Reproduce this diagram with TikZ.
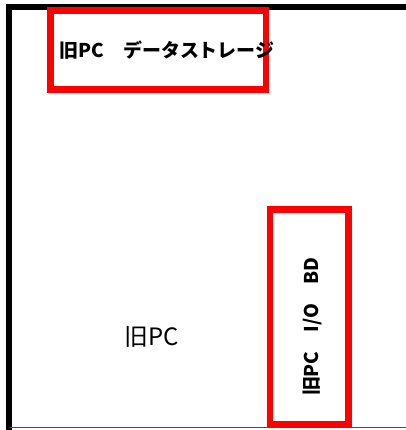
\documentclass[tikz,border=0pt]{standalone}
\usepackage{fontspec}
\newfontfamily\jp{Noto Sans CJK JP}

\begin{document}
\begin{tikzpicture}[x=1bp,y=-1bp,
    frame/.style={line width=6bp,black},
    part/.style={draw=red,line width=6.5bp,inner sep=0},
    caption/.style={inner sep=0,font=\jp\fontsize{19}{21}\selectfont}
    ]
    \def\W{406}  % picture width
    \def\H{430}  % picture height
    \useasboundingbox (0,0) rectangle (\W,\H);

    % housing of the old pc
    \draw[frame] (9,\H) -- (9,7) -- (\W,7);
    \draw[line width=1.5bp,black!70] (9,427.5) -- (\W,427.5);

    % parts
    \node[part,minimum width=215.5bp,minimum height=79bp] (storage) at (158.25,50) {};
    \node[caption] (storagelabel) at (167,50) {\bfseries 旧PC　データストレージ};

    \node[part,minimum width=78.5bp,minimum height=215bp] (iobd) at (309.25,317) {};
    \node[caption,rotate=90] (iobdlabel) at (312,327) {\bfseries 旧PC　I/O　BD};

    \node[caption,font=\jp\fontsize{24}{26}\selectfont] (oldpc) at (152,337) {旧PC};
\end{tikzpicture}
\end{document}
